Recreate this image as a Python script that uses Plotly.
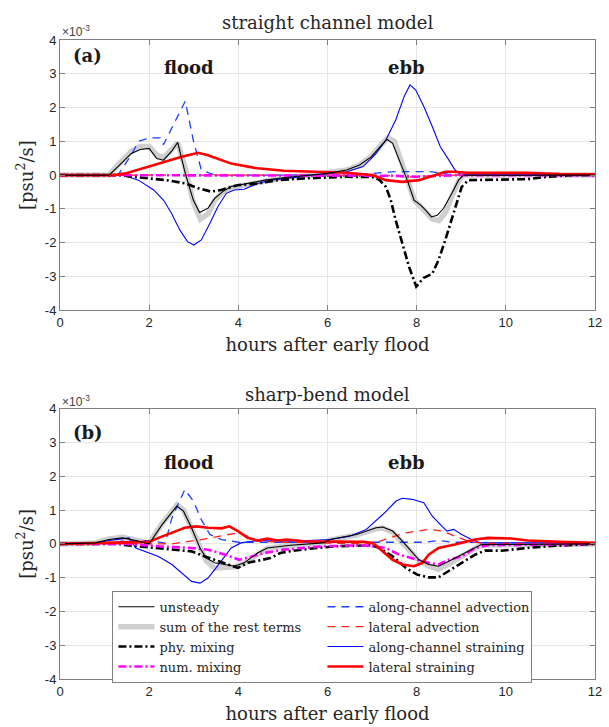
import plotly.graph_objects as go

# ---------------- data (units of 1e-3 psu^2/s) ----------------
# (a) straight channel model
a_unsteady_h = [0, 1.1, 1.3, 1.6, 1.8, 2.0, 2.17, 2.32, 2.5, 2.64, 2.81, 2.99, 3.13, 3.32, 3.47, 3.65, 3.84, 4.2, 4.6, 5.0, 5.5, 6.0, 6.43, 6.72, 6.98, 7.17, 7.33, 7.46, 7.61, 7.79, 7.94, 8.09, 8.2, 8.33, 8.46, 8.6, 8.79, 8.94, 9.05, 10, 12]
a_unsteady_v = [0, 0, 0.25, 0.64, 0.76, 0.79, 0.49, 0.44, 0.7, 0.97, 0.05, -0.74, -1.11, -0.98, -0.69, -0.49, -0.34, -0.25, -0.15, -0.08, -0.02, 0.05, 0.15, 0.3, 0.54, 0.84, 1.06, 0.94, 0.45, -0.15, -0.74, -0.89, -1.04, -1.24, -1.19, -0.99, -0.54, -0.15, 0, 0, 0]

a_sum_h = [0, 1.1, 1.3, 1.6, 1.8, 2.0, 2.17, 2.32, 2.5, 2.64, 2.81, 2.99, 3.15, 3.32, 3.47, 3.65, 3.84, 4.2, 4.6, 5.0, 5.5, 6.0, 6.43, 6.72, 6.98, 7.17, 7.35, 7.5, 7.65, 7.8, 7.95, 8.1, 8.2, 8.35, 8.5, 8.65, 8.8, 8.95, 9.05, 10, 12]
a_sum_v = [0, 0, 0.3, 0.7, 0.85, 0.85, 0.6, 0.5, 0.75, 0.95, 0.2, -0.8, -1.3, -1.15, -0.75, -0.5, -0.38, -0.28, -0.17, -0.08, -0.02, 0.05, 0.15, 0.3, 0.55, 0.85, 1.1, 1.0, 0.45, -0.2, -0.75, -0.95, -1.1, -1.3, -1.35, -1.1, -0.6, -0.15, 0, 0, 0]

a_phy_h = [0, 1.3, 1.61, 2.39, 2.83, 3.1, 3.39, 3.61, 3.98, 4.43, 4.87, 5.46, 6.42, 7.05, 7.17, 7.31, 7.42, 7.53, 7.68, 7.83, 7.99, 8.16, 8.35, 8.49, 8.64, 8.83, 9.01, 9.16, 10.49, 10.93, 11.5, 12]
a_phy_v = [0, 0, -0.05, -0.15, -0.25, -0.39, -0.49, -0.44, -0.3, -0.25, -0.15, -0.1, -0.05, -0.06, -0.15, -0.35, -0.74, -1.34, -2.03, -2.72, -3.3, -3.04, -2.92, -2.52, -1.93, -1.14, -0.35, -0.15, -0.12, -0.05, 0, 0]

a_num_h = [0, 2, 3, 4, 6, 7.5, 8, 8.5, 9, 12]
a_num_v = [0, 0, -0.02, -0.02, 0, -0.02, -0.05, -0.03, 0, 0]

a_along_adv_h = [0, 1.3, 1.6, 1.76, 2.0, 2.25, 2.32, 2.55, 2.81, 2.99, 3.17, 3.43, 3.7, 6.5, 7.0, 7.5, 8.3, 8.7, 9.0, 12]
a_along_adv_v = [0, 0, 0.6, 1.0, 1.1, 1.1, 0.9, 1.5, 2.19, 1.03, 0.15, 0.02, 0, 0, 0.05, 0.1, 0.1, 0.03, 0, 0]

a_lat_adv_h = [0, 7.0, 7.5, 7.8, 8.2, 8.6, 12]
a_lat_adv_v = [0, 0, -0.03, -0.06, -0.03, 0, 0]

a_along_str_h = [0, 1.4, 1.76, 2.1, 2.32, 2.5, 2.69, 2.86, 3.0, 3.17, 3.36, 3.54, 3.73, 3.91, 4.13, 4.43, 4.73, 5.32, 5.7, 6.0, 6.43, 6.8, 7.09, 7.31, 7.53, 7.72, 7.85, 7.98, 8.16, 8.35, 8.53, 8.72, 8.86, 9.0, 12]
a_along_str_v = [0, 0, -0.15, -0.44, -0.74, -1.13, -1.63, -1.97, -2.07, -1.92, -1.43, -0.94, -0.54, -0.44, -0.42, -0.25, -0.15, -0.05, 0, 0.03, 0.1, 0.25, 0.64, 1.04, 1.63, 2.33, 2.67, 2.52, 2.03, 1.44, 0.84, 0.45, 0.15, 0, 0]

a_lat_str_h = [0, 1.2, 1.47, 1.84, 2.32, 2.73, 3.1, 3.32, 3.84, 4.43, 5.02, 5.68, 6.42, 7.0, 7.31, 7.68, 8.05, 8.42, 8.64, 8.8, 9.16, 10.5, 11.2, 12]
a_lat_str_v = [0, 0, 0.05, 0.2, 0.39, 0.54, 0.66, 0.59, 0.34, 0.2, 0.13, 0.1, 0.07, 0, -0.15, -0.2, -0.15, 0, 0.1, 0.1, 0.07, 0.07, 0.03, 0.02]

# (b) sharp-bend model
b_unsteady_h = [0, 0.8, 1.1, 1.4, 1.7, 2.0, 2.29, 2.62, 2.77, 2.95, 3.14, 3.28, 3.47, 3.69, 3.91, 4.13, 4.43, 4.65, 5.17, 5.9, 6.06, 6.65, 7.09, 7.24, 7.46, 7.68, 7.87, 8.05, 8.27, 8.49, 8.72, 9.01, 9.31, 9.45, 12]
b_unsteady_v = [0, 0.03, 0.13, 0.18, 0.1, 0, 0.57, 1.12, 0.97, 0.48, -0.12, -0.42, -0.56, -0.61, -0.66, -0.56, -0.27, -0.12, -0.04, 0.03, 0.13, 0.28, 0.48, 0.5, 0.38, 0.08, -0.22, -0.47, -0.61, -0.66, -0.51, -0.32, -0.12, -0.02, 0]

b_sum_h = b_unsteady_h
b_sum_v = [0, 0.03, 0.15, 0.2, 0.12, 0.02, 0.6, 1.15, 1.0, 0.5, -0.1, -0.5, -0.72, -0.7, -0.68, -0.58, -0.3, -0.13, -0.04, 0.03, 0.12, 0.26, 0.45, 0.47, 0.35, 0.05, -0.25, -0.5, -0.65, -0.75, -0.6, -0.38, -0.15, -0.03, 0]

b_phy_h = [0, 1.3, 1.48, 2.07, 2.51, 2.95, 3.25, 3.54, 3.84, 3.99, 4.21, 4.5, 4.72, 4.94, 5.24, 5.76, 6.2, 7.0, 7.17, 7.46, 7.76, 8.01, 8.27, 8.49, 8.72, 9.01, 9.31, 9.53, 9.9, 10.19, 10.49, 10.93, 11.6, 12]
b_phy_v = [0, 0, -0.04, -0.12, -0.17, -0.22, -0.37, -0.51, -0.66, -0.71, -0.56, -0.47, -0.42, -0.27, -0.2, -0.12, -0.07, -0.04, -0.12, -0.37, -0.71, -0.91, -0.99, -0.99, -0.81, -0.56, -0.32, -0.2, -0.2, -0.17, -0.12, -0.07, -0.02, 0]

b_num_h = [0, 1.5, 2.21, 2.95, 3.32, 3.76, 4.02, 4.28, 4.58, 5.02, 5.46, 5.9, 6.8, 7.31, 7.61, 7.9, 8.27, 8.49, 8.72, 9.01, 9.31, 9.6, 12]
b_num_v = [0, 0, -0.07, -0.12, -0.17, -0.34, -0.47, -0.37, -0.27, -0.17, -0.12, -0.07, -0.04, -0.12, -0.32, -0.42, -0.56, -0.61, -0.47, -0.37, -0.12, -0.04, 0]

b_along_adv_h = [0, 1.0, 1.5, 2.0, 2.36, 2.51, 2.8, 2.99, 3.17, 3.36, 3.62, 4.0, 6.0, 7.5, 8.2, 8.5, 8.8, 9.2, 10, 12]
b_along_adv_v = [0, 0, 0.1, 0.1, 0.02, 0.77, 1.61, 1.27, 0.72, 0.28, 0.13, 0.05, 0.05, 0.05, 0.05, 0.1, 0.05, 0.05, 0.03, 0.03]

b_lat_adv_h = [0, 2.5, 3.17, 3.62, 3.99, 4.21, 4.43, 5.0, 7.0, 7.39, 7.76, 8.27, 8.57, 8.86, 9.16, 9.45, 12]
b_lat_adv_v = [0, 0, 0.13, 0.23, 0.33, 0.23, 0.08, 0.05, 0.0, 0.18, 0.33, 0.43, 0.38, 0.23, 0.08, 0.02, 0]

b_along_str_h = [0, 0.8, 1.1, 1.55, 1.7, 2.0, 2.21, 2.51, 2.73, 2.95, 3.14, 3.32, 3.5, 3.69, 3.84, 4.06, 4.43, 5.17, 6.06, 6.5, 6.87, 7.24, 7.54, 7.68, 7.9, 8.16, 8.35, 8.57, 8.68, 8.83, 9.01, 9.23, 9.45, 12]
b_along_str_v = [0, 0.03, 0.1, 0.18, -0.12, -0.27, -0.37, -0.61, -0.86, -1.11, -1.16, -1.01, -0.71, -0.37, -0.12, 0.03, 0.1, 0.08, 0.13, 0.23, 0.43, 0.87, 1.27, 1.35, 1.32, 1.22, 0.82, 0.52, 0.38, 0.43, 0.28, 0.13, 0.03, 0.03]

b_lat_str_h = [0, 1.0, 1.47, 2.0, 2.21, 2.51, 2.8, 3.06, 3.32, 3.62, 3.8, 3.99, 4.21, 4.43, 4.65, 4.87, 5.09, 5.46, 6.2, 6.8, 7.02, 7.24, 7.46, 7.68, 7.94, 8.13, 8.27, 8.49, 8.86, 9.31, 9.6, 10.12, 10.49, 11.2, 12]
b_lat_str_v = [0, 0.03, 0.06, 0.06, 0.18, 0.33, 0.48, 0.52, 0.48, 0.46, 0.52, 0.38, 0.18, 0.1, 0.16, 0.1, 0.13, 0.08, 0.06, 0.06, 0.03, -0.22, -0.47, -0.61, -0.66, -0.56, -0.32, -0.12, -0.02, 0.13, 0.18, 0.16, 0.1, 0.06, 0.03]

x_ticks = [0, 2, 4, 6, 8, 10, 12]
y_ticks = [-4, -3, -2, -1, 0, 1, 2, 3, 4]

# ---------------- styles ----------------
SERIF = "DejaVu Serif"
SANS = "Liberation Sans"
DASHDOT = "8px,3px,2px,3px"
styles = {
    "sum":       dict(name="sum of the rest terms", color="#cfcfcf", width=5.5, dash="solid", rank=3),
    "along_str": dict(name="along-channel straining", color="#0000ff", width=1.1, dash="solid", rank=6),
    "along_adv": dict(name="along-channel advection", color="#1f3fff", width=1.3, dash="8px,6px", rank=2),
    "lat_adv":   dict(name="lateral advection", color="#ff2020", width=1.3, dash="8px,6px", rank=4),
    "phy":       dict(name="phy. mixing", color="#000000", width=2.6, dash=DASHDOT, rank=5),
    "num":       dict(name="num. mixing", color="#ff00ff", width=2.6, dash=DASHDOT, rank=7),
    "lat_str":   dict(name="lateral straining", color="#ff0000", width=2.6, dash="solid", rank=8),
    "unsteady":  dict(name="unsteady", color="#000000", width=1.1, dash="solid", rank=1),
}
order = ["sum", "along_str", "along_adv", "lat_adv", "phy", "num", "lat_str", "unsteady"]

panel_a = {
    "unsteady": (a_unsteady_h, a_unsteady_v), "sum": (a_sum_h, a_sum_v),
    "phy": (a_phy_h, a_phy_v), "num": (a_num_h, a_num_v),
    "along_adv": (a_along_adv_h, a_along_adv_v), "lat_adv": (a_lat_adv_h, a_lat_adv_v),
    "along_str": (a_along_str_h, a_along_str_v), "lat_str": (a_lat_str_h, a_lat_str_v),
}
panel_b = {
    "unsteady": (b_unsteady_h, b_unsteady_v), "sum": (b_sum_h, b_sum_v),
    "phy": (b_phy_h, b_phy_v), "num": (b_num_h, b_num_v),
    "along_adv": (b_along_adv_h, b_along_adv_v), "lat_adv": (b_lat_adv_h, b_lat_adv_v),
    "along_str": (b_along_str_h, b_along_str_v), "lat_str": (b_lat_str_h, b_lat_str_v),
}

fig = go.Figure()
for panel, (xa, ya, show) in [(panel_a, ("x", "y", False)), (panel_b, ("x2", "y2", True))]:
    for key in order:
        s = styles[key]
        hx, vy = panel[key]
        fig.add_trace(go.Scatter(
            x=hx, y=vy, xaxis=xa, yaxis=ya, mode="lines", name=s["name"],
            line=dict(color=s["color"], width=s["width"], dash=s["dash"]),
            showlegend=show, legendrank=s["rank"], hoverinfo="skip"))

axis_common = dict(
    range=[0, 12], tickvals=x_ticks, ticktext=[str(t) for t in x_ticks],
    ticks="inside", ticklen=5, tickcolor="#808080",
    showline=True, linecolor="#808080", linewidth=1, mirror="ticks",
    showgrid=True, gridcolor="#e6e6e6", gridwidth=1, zeroline=False,
    tickfont=dict(family=SANS, size=13, color="#262626"), ticklabeloverflow="allow",
)
yaxis_common = dict(
    range=[-4, 4], tickvals=y_ticks, ticktext=[str(t) for t in y_ticks],
    ticks="inside", ticklen=5, tickcolor="#808080",
    showline=True, linecolor="#808080", linewidth=1, mirror="ticks",
    showgrid=True, gridcolor="#e6e6e6", gridwidth=1, zeroline=False,
    tickfont=dict(family=SANS, size=13, color="#262626"),
    title=dict(text="[psu<sup>2</sup>/s]", font=dict(family=SERIF, size=18, color="#262626"), standoff=6),
)
xtitle = dict(text="hours after early flood", font=dict(family=SERIF, size=18, color="#262626"), standoff=9)

fig.update_layout(
    width=609, height=727,
    margin=dict(l=60, r=7, t=40, b=46),
    paper_bgcolor="white", plot_bgcolor="white",
    xaxis=dict(domain=[0, 1], anchor="y", title=xtitle, **axis_common),
    yaxis=dict(domain=[0.5772, 1], anchor="x", **yaxis_common),
    xaxis2=dict(domain=[0, 1], anchor="y2", title=xtitle, **axis_common),
    yaxis2=dict(domain=[0, 0.4228], anchor="x2", **yaxis_common),
    legend=dict(
        orientation="h", x=0.098, y=0.138, xanchor="left", yanchor="top",
        entrywidth=158, entrywidthmode="pixels", traceorder="normal", itemwidth=36,
        bgcolor="white", bordercolor="#808080", borderwidth=1,
        font=dict(family=SERIF, size=13, color="#262626"), tracegroupgap=0,
    ),
    showlegend=True,
)

ann = []
def add_text(text, x, y, xref, yref, size, bold=False, family=SERIF, color="#1a1a1a",
             xanchor="center", yanchor="middle"):
    ann.append(dict(text=f"<b>{text}</b>" if bold else text, x=x, y=y, xref=xref, yref=yref,
                    showarrow=False, font=dict(family=family, size=size, color=color),
                    xanchor=xanchor, yanchor=yanchor))

# panel titles (placed just above each axes box)
add_text("straight channel model", 0.5, 1.064, "x domain", "y domain", 18, color="#262626")
add_text("sharp-bend model", 0.5, 1.052, "x2 domain", "y2 domain", 18, color="#262626")
# multiplier
add_text("×10<sup>-3</sup>", 0.0, 1.034, "x domain", "y domain", 12, family=SANS, color="#404040", xanchor="left")
add_text("×10<sup>-3</sup>", 0.0, 1.028, "x2 domain", "y2 domain", 12, family=SANS, color="#404040", xanchor="left")
# panel labels and phase labels
add_text("(a)", 0.62, 3.55, "x", "y", 18, bold=True)
add_text("flood", 2.9, 3.2, "x", "y", 18, bold=True)
add_text("ebb", 7.77, 3.2, "x", "y", 18, bold=True)
add_text("(b)", 0.62, 3.3, "x2", "y2", 18, bold=True)
add_text("flood", 2.9, 2.4, "x2", "y2", 18, bold=True)
add_text("ebb", 7.77, 2.4, "x2", "y2", 18, bold=True)
fig.update_layout(annotations=ann)

fig.write_html("out.html")
